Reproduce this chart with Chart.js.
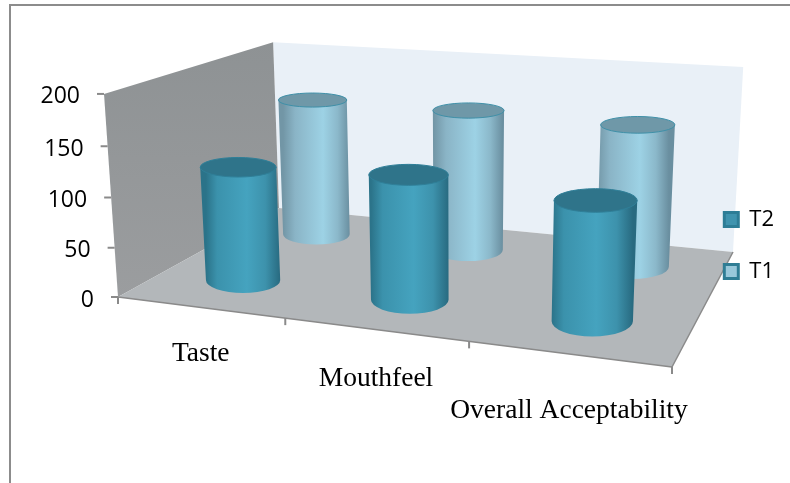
<!DOCTYPE html>
<html>
<head>
<meta charset="utf-8">
<title>Sensory scores</title>
<script src="https://cdn.jsdelivr.net/npm/chart.js@4/dist/chart.umd.min.js"></script>
<style>
  html, body { margin: 0; padding: 0; background: #fff; }
  #wrap { position: relative; width: 790px; height: 483px; overflow: hidden; }
  #wrap canvas { position: absolute; left: 0; top: 0; }
  #frame { position: absolute; left: 9px; top: 4px; right: -4px; bottom: -4px; border: 2px solid #8c8c8c; }
</style>
</head>
<body>
<div id="wrap">
  <canvas id="chart" width="790" height="483"></canvas>
  <div id="frame"></div>
</div>
<script>
// ─── Data ─────────────────────────────────────────────────────────────────
const categories = ['Taste', 'Mouthfeel', 'Overall Acceptability'];
const t2Values = [117, 124, 115];
const t1Values = [153, 153, 150];
const valueTicks = { min: 0, max: 200, step: 50 };

// ─── Box geometry: floor corners on screen, and where verticals converge ──
const floorFL = [118, 297];
const floorFR = [672, 367];
const floorBR = [733, 252];
const floorBL = [279, 208];
const verticalVP = [458, 5235];
const boxHeight = -0.0395;   // weight of the vanishing point at full height

const radiusPx = 38.5;       // cylinder half width where the perspective scale is 1
const radiusW = 0.125;
const labelDrop = [54, 57, 64];

const gridColor = '#8a8a8a';
const fonts = {
  value: '23px "Open Sans", sans-serif',
  category: '27.5px "Liberation Serif", serif',
};
const cylinderStyles = [
  {
    top: '#2f748a', line: '#2f7f98',
    shade: [[0, '#2b7389'], [0.15, '#3b92ac'], [0.55, '#45a3bf'], [0.8, '#3d92ac'], [1, '#286a80']],
  },
  {
    top: '#6f98a8', line: '#3f90a8',
    shade: [[0, '#7296a6'], [0.18, '#8ab4c6'], [0.6, '#9dd2e5'], [0.82, '#8bb8ca'], [1, '#6a8fa0']],
  },
];

// ─── Unit square -> floor quad (projective) ───────────────────────────────
const floorMatrix = (function () {
  const [x0, y0] = floorFL, [x1, y1] = floorFR, [x2, y2] = floorBR, [x3, y3] = floorBL;
  const dx1 = x1 - x2, dx2 = x3 - x2, sx = x0 - x1 + x2 - x3;
  const dy1 = y1 - y2, dy2 = y3 - y2, sy = y0 - y1 + y2 - y3;
  const den = dx1 * dy2 - dx2 * dy1;
  const g = (sx * dy2 - dx2 * sy) / den;
  const h = (dx1 * sy - sx * dy1) / den;
  return {
    a: x1 - x0 + g * x1, b: x3 - x0 + h * x3, c: x0,
    d: y1 - y0 + g * y1, e: y3 - y0 + h * y3, f: y0,
    g, h,
  };
})();

function perspective(u, w, z) {
  return floorMatrix.g * u + floorMatrix.h * w + 1 + boxHeight * z;
}

// u runs along the categories, w into the depth, z up the value axis (all 0..1)
function project(u, w, z) {
  const m = floorMatrix;
  const k = boxHeight * z;
  const den = perspective(u, w, z);
  return [
    (m.a * u + m.b * w + m.c + k * verticalVP[0]) / den,
    (m.d * u + m.e * w + m.f + k * verticalVP[1]) / den,
  ];
}

function polygon(ctx, pts) {
  ctx.beginPath();
  pts.forEach((p, i) => (i ? ctx.lineTo(p[0], p[1]) : ctx.moveTo(p[0], p[1])));
  ctx.closePath();
}

function segment(ctx, a, b) {
  ctx.beginPath();
  ctx.moveTo(a[0], a[1]);
  ctx.lineTo(b[0], b[1]);
  ctx.stroke();
}

// ─── Walls, floor, axes ───────────────────────────────────────────────────
function drawBox(ctx, chart) {
  const x = chart.scales.x, y = chart.scales.y;

  polygon(ctx, [project(0, 1, 0), project(1, 1, 0), project(1, 1, 1), project(0, 1, 1)]);
  ctx.fillStyle = '#e9f0f7';
  ctx.fill();

  polygon(ctx, [project(0, 0, 0), project(0, 1, 0), project(0, 1, 1), project(0, 0, 1)]);
  const wall = ctx.createLinearGradient(0, project(0, 1, 1)[1], 0, project(0, 0, 0)[1]);
  wall.addColorStop(0, '#8e9294');
  wall.addColorStop(1, '#9b9d9f');
  ctx.fillStyle = wall;
  ctx.fill();

  polygon(ctx, [project(0, 0, 0), project(1, 0, 0), project(1, 1, 0), project(0, 1, 0)]);
  ctx.fillStyle = '#b3b7ba';
  ctx.fill();

  ctx.strokeStyle = gridColor;
  ctx.lineWidth = 1.5;
  segment(ctx, project(0, 0, 0), project(1, 0, 0));
  segment(ctx, project(1, 0, 0), project(1, 1, 0));

  // value axis: ticks and labels follow the slanted front edge of the wall
  ctx.font = fonts.value;
  ctx.textAlign = 'right';
  ctx.textBaseline = 'middle';
  y.ticks.forEach(t => {
    const z = (y.bottom - y.getPixelForValue(t.value)) / (y.bottom - y.top);
    const p = project(0, 0, z);
    ctx.strokeStyle = gridColor;
    ctx.lineWidth = 2;
    segment(ctx, p, [p[0] - 7, p[1]]);
    ctx.fillStyle = '#000';
    ctx.fillText(t.label, p[0] - 24, p[1] + 3);
  });

  // category axis: boundaries between groups, label under the middle of each
  ctx.strokeStyle = gridColor;
  ctx.lineWidth = 2;
  for (let i = 0; i <= categories.length; i++) {
    const p = project(i / categories.length, 0, 0);
    segment(ctx, p, [p[0], p[1] + 7]);
  }
  ctx.font = fonts.category;
  ctx.textAlign = 'center';
  ctx.textBaseline = 'alphabetic';
  ctx.fillStyle = '#000';
  categories.forEach((name, i) => {
    const u = (x.getPixelForValue(i) - x.left) / x.width;
    const p = project(u, 0, 0);
    ctx.fillText(name, p[0] + 1, p[1] + labelDrop[i]);
  });
}

// ─── Cylinders ────────────────────────────────────────────────────────────
// Cross-sections stay level on screen: centre and radii come from the projection.
function section(u, w, z) {
  const c = project(u, w, z);
  return {
    x: c[0],
    y: c[1],
    rx: radiusPx / perspective(u, w, z),
    ry: Math.abs(project(u, w + radiusW, z)[1] - project(u, w - radiusW, z)[1]) / 2,
  };
}

function drawCylinder(ctx, u, w, z, style) {
  const base = section(u, w, 0);
  const top = section(u, w, z);

  const shade = ctx.createLinearGradient(base.x - base.rx, 0, base.x + base.rx, 0);
  style.shade.forEach(s => shade.addColorStop(s[0], s[1]));
  ctx.beginPath();
  ctx.ellipse(base.x, base.y, base.rx, base.ry, 0, Math.PI, 0, true);
  ctx.lineTo(top.x + top.rx, top.y);
  ctx.lineTo(top.x - top.rx, top.y);
  ctx.closePath();
  ctx.fillStyle = shade;
  ctx.fill();

  ctx.beginPath();
  ctx.ellipse(top.x, top.y, top.rx, top.ry, 0, 0, 2 * Math.PI);
  ctx.fillStyle = style.top;
  ctx.fill();
  ctx.strokeStyle = style.line;
  ctx.lineWidth = 1;
  ctx.stroke();
}

// The scene goes down before the legend's layer; the flat bars are skipped.
const box3d = {
  id: 'box3d',
  beforeDraw(chart) {
    const ctx = chart.ctx;
    const x = chart.scales.x, y = chart.scales.y;
    ctx.save();
    drawBox(ctx, chart);
    // far row first so the near row overlaps it
    const rows = chart.data.datasets.length;
    for (let d = rows - 1; d >= 0; d--) {
      const w = (d + 0.5) / rows;
      chart.data.datasets[d].data.forEach((v, i) => {
        const u = (x.getPixelForValue(i) - x.left) / x.width;
        const z = (y.bottom - y.getPixelForValue(v)) / (y.bottom - y.top);
        drawCylinder(ctx, u, w, z, cylinderStyles[d]);
      });
    }
    ctx.restore();
  },
  beforeDatasetsDraw() {
    return false;
  },
};

// ─── Chart ────────────────────────────────────────────────────────────────
new Chart(document.getElementById('chart'), {
  type: 'bar',
  data: {
    labels: categories,
    datasets: [
      { label: 'T2', data: t2Values, backgroundColor: '#3f93ae', borderColor: '#2d7d96', grouped: false },
      { label: 'T1', data: t1Values, backgroundColor: '#99c8da', borderColor: '#2f7d94', grouped: false },
    ],
  },
  plugins: [box3d],
  options: {
    responsive: false,
    animation: false,
    devicePixelRatio: 1,
    layout: { padding: { top: 8, right: 6 } },
    scales: {
      x: { display: false },
      y: { display: false, min: valueTicks.min, max: valueTicks.max, ticks: { stepSize: valueTicks.step } },
    },
    plugins: {
      tooltip: { enabled: false },
      legend: {
        position: 'right',
        labels: {
          color: '#000',
          boxWidth: 14,
          boxHeight: 14,
          padding: 30,
          font: { family: '"Open Sans", sans-serif', size: 22 },
          generateLabels: chart => chart.data.datasets.map((ds, i) => ({
            text: ds.label,
            fillStyle: ds.backgroundColor,
            strokeStyle: ds.borderColor,
            lineWidth: 3,
            datasetIndex: i,
          })),
        },
      },
    },
  },
});
</script>
</body>
</html>
